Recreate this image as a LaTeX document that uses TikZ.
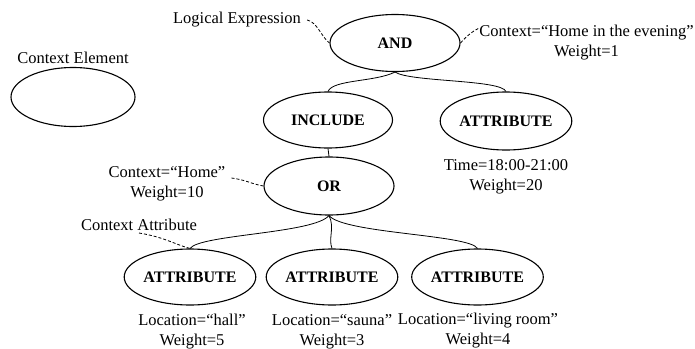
\documentclass[tikz,border=0pt]{standalone}
\usepackage{fontspec}
\setmainfont{Liberation Serif}
\usetikzlibrary{shapes.geometric}
\begin{document}
\begin{tikzpicture}[x=1pt,y=-1pt,
  every node/.style={font=\fontsize{16.5}{20}\selectfont, inner sep=0pt},
  elem/.style={ellipse, draw, line width=1.1pt, minimum width=130pt, minimum height=57pt,
    font=\fontsize{16}{20}\selectfont\bfseries},
  lbl/.style={align=center},
  link/.style={line width=0.8pt},
  note/.style={line width=0.8pt, dash pattern=on 3pt off 2pt}]
\useasboundingbox (0,0) rectangle (695,348);

% legend
\node (legendtxt) at (73,58) {Context Element};
\node[elem, minimum width=124pt, minimum height=59pt] (legend) at (73,97) {};

% context elements
\node[elem] (AND) at (395,43) {AND};
\node[elem, minimum width=129pt, minimum height=56pt] (INCLUDE) at (328,120) {INCLUDE};
\node[elem, minimum width=129pt, minimum height=58pt] (TIME) at (506,121) {ATTRIBUTE};
\node[elem, minimum height=58pt] (OR) at (329,186) {OR};
\node[elem, minimum width=126pt, minimum height=56pt] (HALL) at (190,277) {ATTRIBUTE};
\node[elem, minimum height=56pt] (SAUNA) at (332,277) {ATTRIBUTE};
\node[elem, minimum width=129pt, minimum height=56pt] (LIVING) at (477.5,277) {ATTRIBUTE};

% annotations
\node (logic) at (237,20) {Logical Expression};
\node[lbl] (evening) at (586.5,42.5) {Context=“Home in the evening”\\Weight=1};
\node[lbl] (home) at (167,184) {Context=“Home”\\Weight=10};
\node (ctxattr) at (139,225) {Context Attribute};
\node[lbl] (timetxt) at (506,177) {Time=18:00-21:00\\Weight=20};
\node[lbl] (halltxt) at (192,332) {Location=“hall”\\Weight=5};
\node[lbl] (saunatxt) at (332,332) {Location=“sauna”\\Weight=3};
\node[lbl] (livingtxt) at (478,331) {Location=“living room”\\Weight=4};

% tree connectors
\draw[link] (AND.south) .. controls +(-20,10) and +(5,-12) .. (INCLUDE.north);
\draw[link] (AND.south) .. controls +(15,10) and +(-5,-12) .. (TIME.north);
\draw[link] (INCLUDE.south) -- (OR.north);
\draw[link] (OR.south) .. controls +(-15,18) and +(10,-14) .. (HALL.north);
\draw[link] (OR.south) .. controls +(6,12) and +(-4,-10) .. (SAUNA.north);
\draw[link] (OR.south) .. controls +(15,18) and +(-8,-14) .. (LIVING.north);

% dashed annotation leaders
\draw[note] ([xshift=6pt]logic.east) .. controls +(10,2) and +(-8,-6) .. (AND.west);
\draw[note] (AND.east) .. controls +(5,-6) and +(-6,3) .. ([xshift=-1pt,yshift=14pt]evening.west);
\draw[note] ([xshift=6pt,yshift=6pt]home.east) .. controls +(15,2) and +(-12,-2) .. (OR.west);
\draw[note] ([yshift=-2pt]ctxattr.south) .. controls +(25,4) and +(-15,-4) .. (HALL.north);
\end{tikzpicture}
\end{document}
